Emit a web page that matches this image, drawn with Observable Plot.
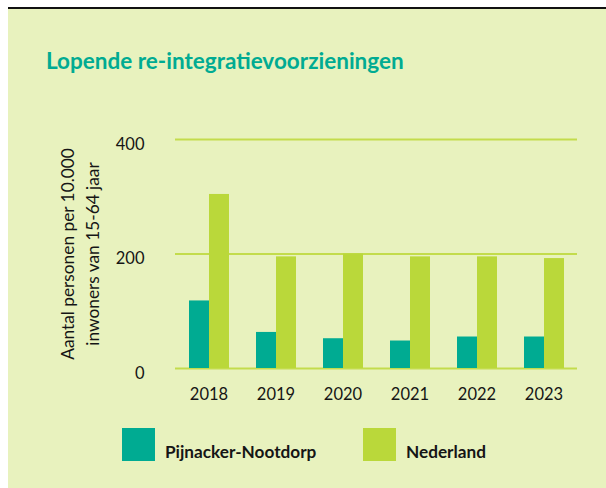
<!DOCTYPE html>
<html>
<head>
<meta charset="utf-8">
<script src="https://cdn.jsdelivr.net/npm/d3@7"></script>
<script src="https://cdn.jsdelivr.net/npm/@observablehq/plot@0.6"></script>
<style>
  html, body { margin: 0; padding: 0; background: #ffffff; }
  #wrap { position: relative; width: 606px; height: 488px; overflow: hidden; font-family: Lato, "Open Sans", sans-serif; color: #151515; }
  #panel { position: absolute; left: 8px; top: 9px; right: 0; bottom: 0; background: #e8f2be; }
  #topline { position: absolute; left: 8px; top: 7px; right: 0; height: 2px; background: #111; }
  #title { position: absolute; left: 46px; top: 47px; font-size: 22.5px; line-height: 27px; font-weight: 700; color: #00ab92; white-space: nowrap; }
  #ylabel { position: absolute; left: -50px; top: 229px; width: 260px; height: 50px; font-size: 17.3px; line-height: 25px; text-align: center; transform: rotate(-90deg); white-space: nowrap; }
  #chart { position: absolute; left: 0; top: 0; }
  .sw { position: absolute; width: 33px; height: 33px; }
  .lg { position: absolute; font-size: 17.2px; line-height: 20px; font-weight: 700; white-space: nowrap; }
</style>
</head>
<body>
<div id="wrap">
  <div id="panel"></div>
  <div id="topline"></div>
  <div id="chart"></div>
  <div id="title"></div>
  <div id="ylabel"></div>
  <div id="legend"></div>
</div>
<script>
const title = "Lopende re-integratievoorzieningen";
const yLabelLines = ["Aantal personen per 10.000", "inwoners van 15-64 jaar"];
const years = ["2018", "2019", "2020", "2021", "2022", "2023"];
const series = ["Pijnacker-Nootdorp", "Nederland"];
const pijnacker = [118, 63, 52, 48, 55, 55];
const nederland = [304, 195, 200, 195, 195, 192];
const colors = ["#00ab92", "#bad83a"];
const yTicks = [0, 200, 400];

const data = years.flatMap((yr, i) => [
  {year: yr, series: series[0], value: pijnacker[i]},
  {year: yr, series: series[1], value: nederland[i]}
]);

const chart = Plot.plot({
  width: 606,
  height: 488,
  marginLeft: 173,
  marginRight: 27,
  marginTop: 139,
  marginBottom: 120,
  style: {background: "transparent", fontFamily: "Lato, 'Open Sans', sans-serif", fontSize: "16.5px", color: "#151515", overflow: "visible"},
  fx: {domain: years, padding: 0, label: null},
  x: {domain: series, paddingInner: 0, paddingOuter: 0.62, axis: null},
  y: {domain: [0, 400], label: null},
  color: {domain: series, range: colors},
  marks: [
    Plot.ruleY(yTicks, {stroke: "#c3dc4c", strokeWidth: 2}),
    Plot.barY(data, {fx: "year", x: "series", y: "value", fill: "series"}),
    Plot.axisY({ticks: yTicks, tickSize: 0, tickPadding: 31, dy: 5, label: null}),
    Plot.axisFx({anchor: "bottom", tickSize: 0, tickPadding: 20, label: null})
  ]
});
document.getElementById("chart").appendChild(chart);

document.getElementById("title").textContent = title;
document.getElementById("ylabel").innerHTML = yLabelLines.join("<br>");

const legend = document.getElementById("legend");
const swX = [122, 363];
const txX = [165, 406];
series.forEach((s, i) => {
  const sw = document.createElement("div");
  sw.className = "sw";
  sw.style.left = swX[i] + "px";
  sw.style.top = "428px";
  sw.style.background = colors[i];
  legend.appendChild(sw);
  const t = document.createElement("div");
  t.className = "lg";
  t.style.left = txX[i] + "px";
  t.style.top = "442px";
  t.textContent = s;
  legend.appendChild(t);
});
</script>
</body>
</html>
